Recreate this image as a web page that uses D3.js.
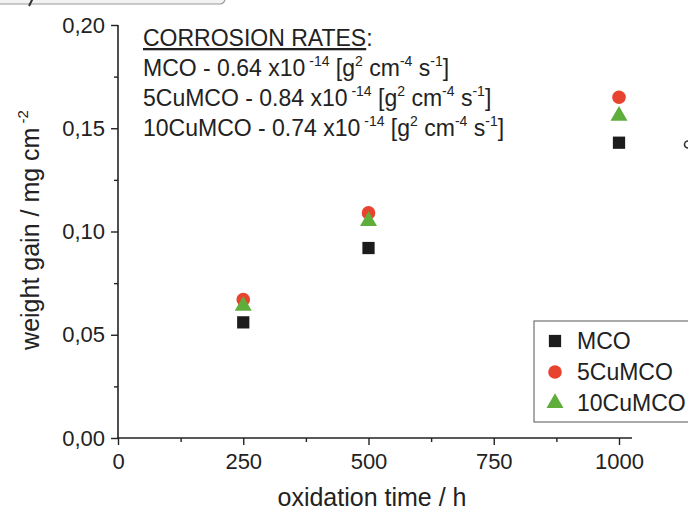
<!DOCTYPE html>
<html>
<head>
<meta charset="utf-8">
<script src="https://cdn.jsdelivr.net/npm/d3@7"></script>
<style>
  body { margin: 0; background: #fff; }
  svg { display: block; font-family: "Liberation Sans", Arial, sans-serif; }
</style>
</head>
<body>
<svg width="688" height="513"></svg>
<script>
  // 数据
  let hours = [250, 500, 1000];
  let mco = [0.056, 0.092, 0.143];
  let cu5 = [0.067, 0.109, 0.165];
  let cu10 = [0.064, 0.105, 0.156];
  let seriesNames = ["MCO", "5CuMCO", "10CuMCO"];
  let xTicks = [0, 250, 500, 750, 1000];
  let xMinor = [125, 375, 625, 875];
  let yTicks = [0, 0.05, 0.10, 0.15, 0.20];
  let yMinor = [0.025, 0.075, 0.125, 0.175];
  let rateNames = ["MCO", "5CuMCO", "10CuMCO"];
  let rateValues = ["0.64", "0.84", "0.74"];

  let svg = d3.select("svg");

  let x = d3.scaleLinear().domain([0, 1000]).range([118, 619]);
  let y = d3.scaleLinear().domain([0, 0.20]).range([438, 25]);

  let fmt = d3.formatLocale({ decimal: ",", thousands: ".", grouping: [3], currency: ["", ""] }).format(".2f");

  // 左上角被裁掉的面板标签框
  svg.append("rect")
    .attr("x", -6).attr("y", -20)
    .attr("width", 231).attr("height", 24)
    .attr("rx", 5)
    .attr("fill", "#f2f2f2")
    .attr("stroke", "#9a9a9a")
    .attr("stroke-width", 1.2);
  // 残留的字母尾巴
  svg.append("path")
    .attr("d", "M33,-2 L29,6")
    .attr("stroke", "#333")
    .attr("stroke-width", 2)
    .attr("fill", "none");

  // 坐标轴
  let axisColor = "#222";
  function styleAxis(g) {
    g.select(".domain").remove();
    g.selectAll("line").attr("stroke", axisColor).attr("stroke-width", 1.4);
    g.selectAll("text").attr("fill", "#222").attr("font-family", "Liberation Sans, Arial, sans-serif");
  }

  let gx = svg.append("g").attr("transform", "translate(0,438)")
    .call(d3.axisBottom(x).tickValues(xTicks).tickSize(7).tickPadding(8).tickFormat(d3.format("d")));
  styleAxis(gx);
  gx.selectAll("text").attr("font-size", 22);

  let gxm = svg.append("g").attr("transform", "translate(0,438)")
    .call(d3.axisBottom(x).tickValues(xMinor).tickSize(4).tickFormat(""));
  styleAxis(gxm);

  let gy = svg.append("g").attr("transform", "translate(118,0)")
    .call(d3.axisLeft(y).tickValues(yTicks).tickSize(7).tickPadding(6).tickFormat(fmt));
  styleAxis(gy);
  gy.selectAll("text").attr("font-size", 22);

  let gym = svg.append("g").attr("transform", "translate(118,0)")
    .call(d3.axisLeft(y).tickValues(yMinor).tickSize(4).tickFormat(""));
  styleAxis(gym);

  // 轴线
  svg.append("line")
    .attr("x1", 118).attr("x2", 118)
    .attr("y1", y(0.20)).attr("y2", 438)
    .attr("stroke", axisColor).attr("stroke-width", 1.6);
  svg.append("line")
    .attr("x1", 117).attr("x2", 632)
    .attr("y1", 438).attr("y2", 438)
    .attr("stroke", axisColor).attr("stroke-width", 1.6);

  // 轴标题
  svg.append("text")
    .attr("x", 372).attr("y", 506)
    .attr("text-anchor", "middle")
    .attr("font-size", 25)
    .attr("fill", "#222")
    .text("oxidation time / h");

  let yl = svg.append("text")
    .attr("transform", "translate(39,230) rotate(-90)")
    .attr("text-anchor", "middle")
    .attr("font-size", 25)
    .attr("fill", "#222");
  yl.append("tspan").text("weight gain / mg cm");
  yl.append("tspan").attr("dy", -11).attr("font-size", 15).text(" -2");

  // 数据点
  let colors = ["#1c1c1c", "#e8432e", "#5fae3c"];
  let shapes = [d3.symbolSquare, d3.symbolCircle, d3.symbolTriangle];
  let sizes = [150, 145, 125];
  let allSeries = [mco, cu5, cu10];

  allSeries.forEach(function (vals, s) {
    svg.append("g")
      .selectAll("path")
      .data(vals)
      .join("path")
      .attr("transform", (d, i) => `translate(${x(hours[i])},${y(d)})`)
      .attr("d", d3.symbol().type(shapes[s]).size(sizes[s]))
      .attr("fill", colors[s]);
  });

  // 腐蚀速率注释
  let ax = 143;
  let t0 = svg.append("text")
    .attr("x", ax).attr("y", 46)
    .attr("font-size", 23)
    .attr("fill", "#222");
  t0.append("tspan").attr("text-decoration", "underline").text("CORROSION RATES");
  t0.append("tspan").text(":");

  rateNames.forEach(function (n, i) {
    let t = svg.append("text")
      .attr("x", ax).attr("y", 76 + i * 30)
      .attr("font-size", 23)
      .attr("fill", "#222");
    t.append("tspan").text(n + " - " + rateValues[i] + " x10");
    t.append("tspan").attr("dy", -10).attr("font-size", 14).text(" -14");
    t.append("tspan").attr("dy", 10).text(" [g");
    t.append("tspan").attr("dy", -10).attr("font-size", 14).text("2");
    t.append("tspan").attr("dy", 10).text(" cm");
    t.append("tspan").attr("dy", -10).attr("font-size", 14).text("-4");
    t.append("tspan").attr("dy", 10).text(" s");
    t.append("tspan").attr("dy", -10).attr("font-size", 14).text("-1");
    t.append("tspan").attr("dy", 10).text("]");
  });

  // 图例
  svg.append("rect")
    .attr("x", 534).attr("y", 321)
    .attr("width", 170).attr("height", 101)
    .attr("fill", "#fff")
    .attr("stroke", "#555")
    .attr("stroke-width", 1);

  let leg = svg.append("g")
    .selectAll("g")
    .data(seriesNames)
    .join("g")
    .attr("transform", (d, i) => `translate(555,${341 + i * 31})`);
  leg.append("path")
    .attr("d", (d, i) => d3.symbol().type(shapes[i]).size(sizes[i])())
    .attr("fill", (d, i) => colors[i]);
  leg.append("text")
    .attr("x", 22).attr("y", 8)
    .attr("font-size", 23)
    .attr("fill", "#222")
    .text(d => d);

  // 右侧相邻面板的残留笔画
  svg.append("path")
    .attr("d", "M688,141 A3.5,3.5 0 1 0 688,148")
    .attr("stroke", "#333")
    .attr("stroke-width", 1.6)
    .attr("fill", "none");
</script>
</body>
</html>
